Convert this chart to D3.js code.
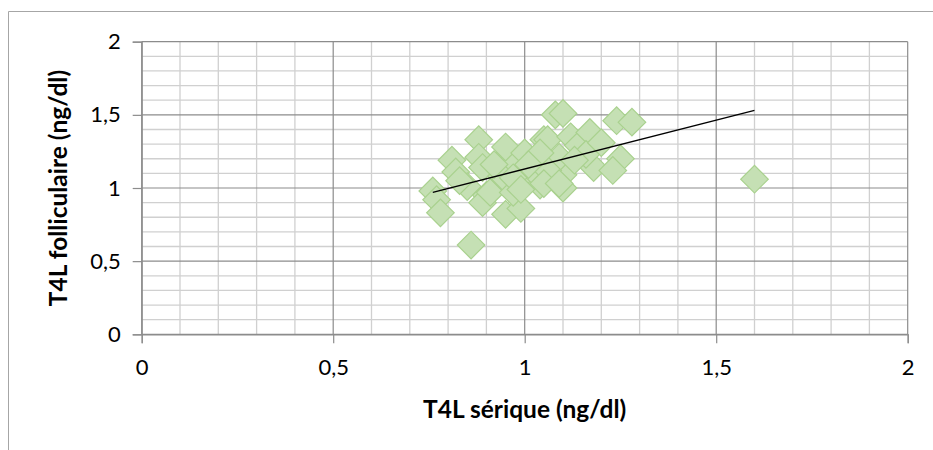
<!DOCTYPE html>
<html>
<head>
<meta charset="utf-8">
<script src="https://cdn.jsdelivr.net/npm/d3@7"></script>
<style>
  body { margin: 0; background: #fff; }
  text { font-family: Lato, "Open Sans", sans-serif; fill: #000; }
</style>
</head>
<body>
<svg id="chart" width="933" height="450"></svg>
<script>
// T4L sérique (x) vs T4L folliculaire (y), ng/dl
const serique = [0.76, 0.77, 0.78, 0.81, 0.82, 0.86, 0.88, 0.88, 0.89, 0.85, 0.90, 0.89, 0.91, 0.94,
  0.95, 0.96, 0.97, 0.95, 1.00, 0.95, 0.99, 0.97, 1.01, 1.04, 1.04, 1.05, 1.06, 1.07, 1.08, 1.10,
  1.12, 1.14, 1.17, 1.18, 1.10, 1.10, 1.24, 1.28, 1.25, 1.23, 1.60, 1.09, 1.06, 1.05, 1.09, 1.04,
  0.97, 1.01, 0.92, 1.16, 1.20, 1.13, 0.83, 0.99];
const folliculaire = [0.98, 0.92, 0.83, 1.19, 1.11, 0.61, 1.33, 1.21, 1.14, 1.01, 0.95, 0.90, 0.97, 1.08,
  1.06, 1.24, 1.19, 1.28, 1.24, 0.82, 0.86, 0.97, 1.10, 1.02, 1.07, 1.33, 1.33, 1.14, 1.50, 1.51,
  1.35, 1.29, 1.38, 1.14, 1.09, 1.00, 1.46, 1.45, 1.20, 1.12, 1.06, 1.21, 1.12, 1.03, 1.03, 1.24,
  1.07, 1.16, 1.16, 1.23, 1.31, 1.19, 1.05, 0.99];
// linear trend (start, end)
const trendX = [0.76, 1.60];
const trendY = [0.97, 1.53];
const axisTicks = [0, 0.5, 1, 1.5, 2];
const xTitle = 'T4L sérique (ng/dl)', yTitle = 'T4L folliculaire (ng/dl)';

const points = serique.map((v, i) => ({x: v, y: folliculaire[i]}));
const trend = trendX.map((v, i) => ({x: v, y: trendY[i]}));

const W = 933, H = 450;
const margin = {top: 41.7, right: 25.3, bottom: 115.7, left: 141.7};
const width = W - margin.left - margin.right, height = H - margin.top - margin.bottom;

const svg = d3.select('#chart');
// outer chart frame (cropped at right/bottom)
svg.append('path').attr('d', `M8.5,${H}V11.5H${W}`).attr('fill', 'none').attr('stroke', '#a6a6a6').attr('stroke-width', 1);

const g = svg.append('g').attr('transform', `translate(${margin.left},${margin.top})`);
const x = d3.scaleLinear().domain([0, 2]).range([0, width]);
const y = d3.scaleLinear().domain([0, 2]).range([height, 0]);
const fmt = d => String(d).replace('.', ',');

// gridlines: minor every 0.1, major every 0.5
const minor = d3.range(0, 21).map(i => i / 10).filter(v => Math.round(v * 10) % 5 !== 0);
g.append('g').selectAll('line').data(minor).join('line')
  .attr('x1', d => x(d)).attr('x2', d => x(d)).attr('y1', 0).attr('y2', height)
  .attr('stroke', '#d0d0d0').attr('stroke-width', 1.3);
g.append('g').selectAll('line').data(minor).join('line')
  .attr('y1', d => y(d)).attr('y2', d => y(d)).attr('x1', 0).attr('x2', width)
  .attr('stroke', '#d0d0d0').attr('stroke-width', 1.3);
g.append('g').selectAll('line').data(axisTicks).join('line')
  .attr('x1', d => x(d)).attr('x2', d => x(d)).attr('y1', 0).attr('y2', height)
  .attr('stroke', '#8c8c8c').attr('stroke-width', 1.2);
g.append('g').selectAll('line').data(axisTicks).join('line')
  .attr('y1', d => y(d)).attr('y2', d => y(d)).attr('x1', 0).attr('x2', width)
  .attr('stroke', '#8c8c8c').attr('stroke-width', 1.2);

// axes
const xAxis = g.append('g').attr('transform', `translate(0,${height})`)
  .call(d3.axisBottom(x).tickValues(axisTicks).tickFormat(fmt).tickSize(9).tickPadding(16));
const yAxis = g.append('g')
  .call(d3.axisLeft(y).tickValues(axisTicks).tickFormat(fmt).tickSize(9).tickPadding(12));
[xAxis, yAxis].forEach(a => {
  a.selectAll('path.domain, line').attr('stroke', '#8c8c8c').attr('stroke-width', 1.2);
  a.selectAll('text').attr('font-family', 'Lato').attr('font-size', 22).attr('fill', '#000');
});

// points
const diamond = d3.symbol().type(d3.symbolSquare).size(380);
g.append('g').selectAll('path').data(points).join('path')
  .attr('d', diamond)
  .attr('transform', d => `translate(${x(d.x)},${y(d.y)}) rotate(45)`)
  .attr('fill', '#c5e0b4').attr('stroke', '#a9d18e').attr('stroke-width', 1.2);

// trend line
g.append('path').datum(trend)
  .attr('d', d3.line().x(d => x(d.x)).y(d => y(d.y)))
  .attr('fill', 'none').attr('stroke', '#000').attr('stroke-width', 1.3);

// titles
svg.append('text').text(xTitle)
  .attr('x', margin.left + width / 2).attr('y', 418)
  .attr('text-anchor', 'middle').attr('font-weight', 'bold').attr('font-size', 24.5);
svg.append('text').text(yTitle)
  .attr('transform', `translate(67,${margin.top + height / 2}) rotate(-90)`)
  .attr('text-anchor', 'middle').attr('font-weight', 'bold').attr('font-size', 24.5);
</script>
</body>
</html>
